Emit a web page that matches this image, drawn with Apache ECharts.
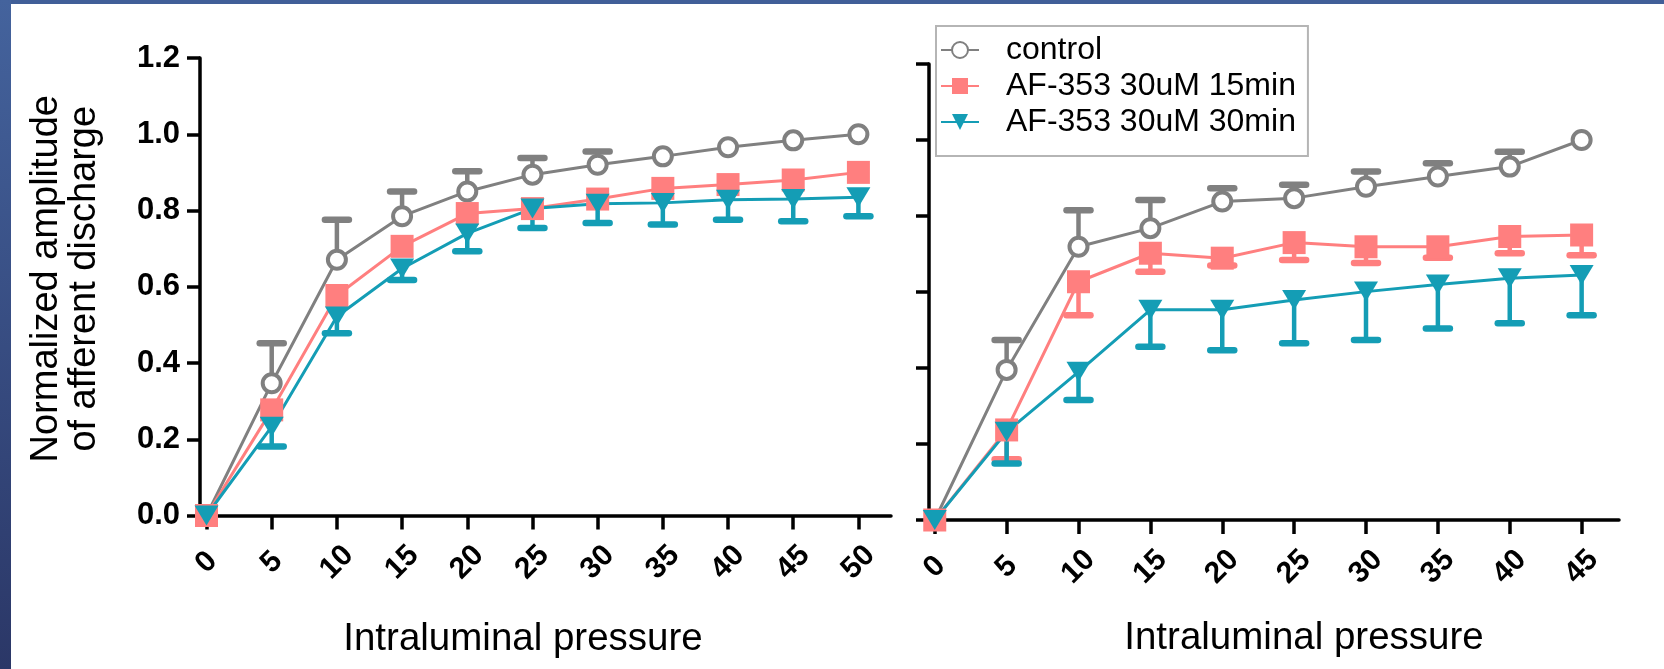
<!DOCTYPE html>
<html>
<head>
<meta charset="utf-8">
<script src="https://cdn.jsdelivr.net/npm/echarts@6/dist/echarts.min.js"></script>
<style>html,body{margin:0;padding:0;background:#fff;}#c{width:1664px;height:669px;}</style>
</head>
<body>
<div id="c"></div>
<script>
// ---------- data ----------
const seriesNames = ['control', 'AF-353 30uM 15min', 'AF-353 30uM 30min'];
const leftX = [0, 5, 10, 15, 20, 25, 30, 35, 40, 45, 50];
const leftControl = [0, 0.347, 0.671, 0.785, 0.850, 0.894, 0.920, 0.942, 0.966, 0.984, 1.0];
const left15 = [0, 0.277, 0.577, 0.706, 0.792, 0.805, 0.830, 0.858, 0.868, 0.880, 0.900];
const left30 = [0, 0.233, 0.522, 0.648, 0.740, 0.805, 0.818, 0.820, 0.828, 0.830, 0.835];
// error-bar ends (null = hidden by marker)
const leftControlErr = [null, 0.452, 0.776, 0.850, 0.903, 0.938, 0.955, null, null, null, null];
const left15Err = [null, null, null, null, null, null, null, null, null, null, null];
const left30Err = [null, 0.181, 0.478, 0.618, 0.693, 0.754, 0.767, 0.763, 0.776, 0.772, 0.785];

const rightX = [0, 5, 10, 15, 20, 25, 30, 35, 40, 45];
const rightControl = [0, 0.395, 0.719, 0.768, 0.838, 0.847, 0.877, 0.904, 0.930, 1.0];
const right15 = [0, 0.237, 0.627, 0.702, 0.689, 0.730, 0.719, 0.719, 0.746, 0.750];
const right30 = [0, 0.232, 0.390, 0.553, 0.553, 0.579, 0.601, 0.620, 0.636, 0.645];
const rightControlErr = [null, 0.474, 0.815, 0.842, 0.873, 0.882, 0.917, 0.939, 0.969, null];
const right15Err = [null, 0.160, 0.539, 0.653, 0.670, 0.684, 0.676, 0.690, 0.702, 0.697];
const right30Err = [null, 0.149, 0.316, 0.456, 0.447, 0.465, 0.474, 0.504, 0.518, 0.539];

const leftTicks = [0, 5, 10, 15, 20, 25, 30, 35, 40, 45, 50];
const rightTicks = [0, 5, 10, 15, 20, 25, 30, 35, 40, 45];

// ---------- styles ----------
const FONT = 'Liberation Sans, Arial, sans-serif';
const GRAY = '#808080', RED = '#ff7f7f', TEAL = '#149db5';

function pairs(xs, ys) { return xs.map((x, i) => [x, ys[i]]); }
function errPairs(xs, ys, es) {
  const out = [];
  xs.forEach((x, i) => { if (es[i] !== null) out.push([x, ys[i], es[i]]); });
  return out;
}
function errSeries(name, color, xi, data) {
  return {
    type: 'custom', name: name + ' err', xAxisIndex: xi, yAxisIndex: xi,
    encode: { x: 0, y: [1, 2] }, data: data, silent: true,
    renderItem: function (params, api) {
      const x = api.value(0), m = api.value(1), e = api.value(2);
      const p0 = api.coord([x, m]), p1 = api.coord([x, e]);
      const half = 12;
      return {
        type: 'group', children: [
          { type: 'line', shape: { x1: p0[0], y1: p0[1], x2: p1[0], y2: p1[1] }, style: { stroke: color, lineWidth: 4.5 } },
          { type: 'line', shape: { x1: p1[0] - half, y1: p1[1], x2: p1[0] + half, y2: p1[1] }, style: { stroke: color, lineWidth: 6.5, lineCap: 'round' } }
        ]
      };
    }
  };
}
function lineSeries(idx, xi, data) {
  const base = { type: 'line', name: seriesNames[idx], xAxisIndex: xi, yAxisIndex: xi, data: data, z: 3 };
  if (idx === 0) return Object.assign(base, {
    symbol: 'circle', symbolSize: 18,
    itemStyle: { color: '#fff', borderColor: GRAY, borderWidth: 4 },
    lineStyle: { color: GRAY, width: 3 }
  });
  if (idx === 1) return Object.assign(base, {
    symbol: 'rect', symbolSize: 23,
    itemStyle: { color: RED },
    lineStyle: { color: RED, width: 3 }
  });
  return Object.assign(base, {
    symbol: 'triangle', symbolRotate: 180, symbolSize: [24, 20],
    itemStyle: { color: TEAL },
    lineStyle: { color: TEAL, width: 3 }
  });
}
function xAx(gi, min, max, ticks, pad, gap) {
  return {
    type: 'value', gridIndex: gi, min: min, max: max,
    axisLine: { show: true, onZero: false, lineStyle: { color: '#000', width: 3.5 } },
    axisTick: { show: true, inside: false, length: 14, customValues: ticks, lineStyle: { color: '#000', width: 3.5 } },
    axisLabel: { customValues: ticks, rotate: 45, align: 'center', verticalAlign: 'middle', margin: 47,
      fontSize: 30, fontWeight: 'bold', color: '#000', fontFamily: FONT },
    splitLine: { show: false },
    name: 'Intraluminal pressure', nameLocation: 'middle', nameGap: gap,
    nameTextStyle: { fontSize: 38.5, color: '#000', fontFamily: FONT, padding: pad }
  };
}
function yAx(gi, showLabels) {
  const o = {
    type: 'value', gridIndex: gi, min: 0, max: 1.2, interval: 0.2,
    axisLine: { show: true, onZero: false, lineStyle: { color: '#000', width: 3.5 } },
    axisTick: { show: true, inside: false, length: 13, lineStyle: { color: '#000', width: 3.5 } },
    axisLabel: { show: showLabels, margin: 20, fontSize: 31, fontWeight: 'bold', color: '#000', fontFamily: FONT,
      formatter: v => v.toFixed(1) },
    splitLine: { show: false }
  };
  if (showLabels) {
    o.name = 'Normalized amplitude\nof afferent discharge';
    o.nameLocation = 'middle';
    o.nameGap = 96;
    o.nameTextStyle = { fontSize: 38, lineHeight: 38, color: '#000', fontFamily: FONT, padding: [0, 0, 0, 16] };
  }
  return o;
}

const chart = echarts.init(document.getElementById('c'), null, { renderer: 'canvas' });
chart.setOption({
  animation: false,
  backgroundColor: '#fff',
  graphic: [
    { type: 'rect', shape: { x: 0, y: 0, width: 1664, height: 4 }, style: { fill: '#415f98' }, z: 100 },
    { type: 'rect', shape: { x: 0, y: 0, width: 11, height: 669 },
      style: { fill: new echarts.graphic.LinearGradient(0, 0, 0, 1, [{ offset: 0, color: '#44639d' }, { offset: 1, color: '#2b3767' }]) }, z: 100 }
  ],
  grid: [
    { left: 200, top: 58, width: 691, height: 457.5 },
    { left: 929, top: 64, width: 690, height: 456 }
  ],
  xAxis: [xAx(0, -0.5, 52.5, leftTicks, [0, 45, 0, 0], 104), xAx(1, -0.4, 47.6, rightTicks, [0, 0, 0, 60], 99)],
  yAxis: [yAx(0, true), yAx(1, false)],
  legend: {
    data: seriesNames, orient: 'vertical', left: 936, top: 26,
    padding: [8, 12, 18, 4], itemWidth: 38, itemHeight: 20, itemGap: 4,
    borderColor: '#b5b5b5', borderWidth: 2, backgroundColor: '#fff',
    textStyle: { fontSize: 32, color: '#000', fontFamily: FONT, padding: [0, 0, 0, 22] }
  },
  series: [
    errSeries('control', GRAY, 0, errPairs(leftX, leftControl, leftControlErr)),
    lineSeries(0, 0, pairs(leftX, leftControl)),
    errSeries('15min', RED, 0, errPairs(leftX, left15, left15Err)),
    lineSeries(1, 0, pairs(leftX, left15)),
    errSeries('30min', TEAL, 0, errPairs(leftX, left30, left30Err)),
    lineSeries(2, 0, pairs(leftX, left30)),
    errSeries('control', GRAY, 1, errPairs(rightX, rightControl, rightControlErr)),
    lineSeries(0, 1, pairs(rightX, rightControl)),
    errSeries('15min', RED, 1, errPairs(rightX, right15, right15Err)),
    lineSeries(1, 1, pairs(rightX, right15)),
    errSeries('30min', TEAL, 1, errPairs(rightX, right30, right30Err)),
    lineSeries(2, 1, pairs(rightX, right30))
  ]
});
</script>
</body>
</html>
